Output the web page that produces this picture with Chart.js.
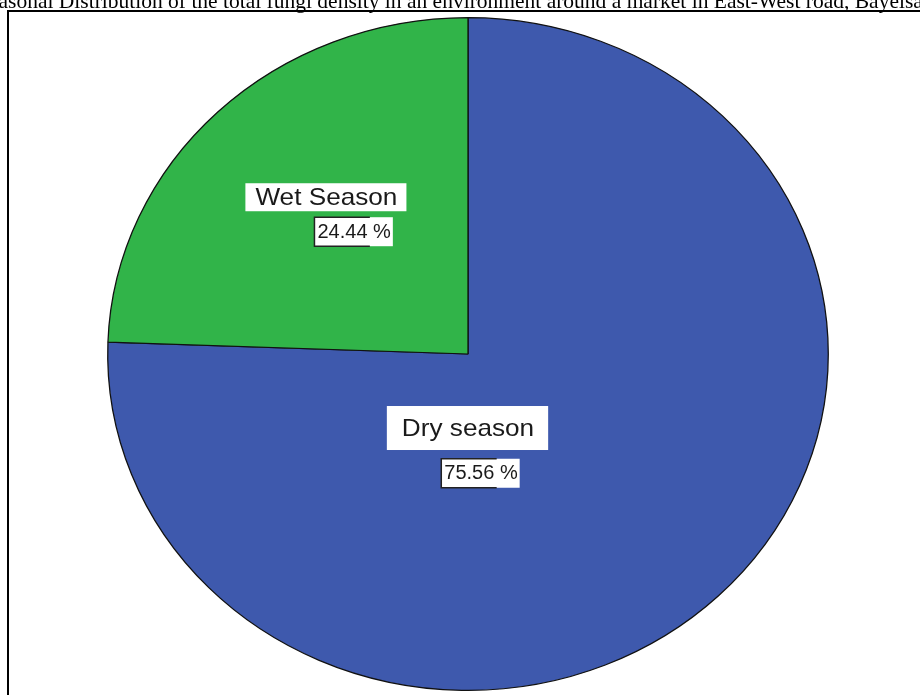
<!DOCTYPE html>
<html>
<head>
<meta charset="utf-8">
<script src="https://cdn.jsdelivr.net/npm/chart.js@4.4.1/dist/chart.umd.min.js"></script>
<style>
  html, body { margin: 0; padding: 0; background: #ffffff; }
  #wrap { position: relative; width: 920px; height: 695px; overflow: hidden; }
  canvas { display: block; }
</style>
</head>
<body>
<div id="wrap"><canvas id="c" width="920" height="695"></canvas></div>
<script>
const chartTitle = "Seasonal Distribution of the total fungi density in an environment around a market in East-West road, Bayelsa State";
const categories = ["Dry season", "Wet Season"];
const percentValues = [75.56, 24.44];
const percentLabels = ["75.56 %", "24.44 %"];
const sliceColors = ["#3e59ad", "#31b449"];

const STRETCH_X = 1.071;

// label placement, as fractions of the pie radius from the pie centre
const labelPlacement = [
  { name: [0.0, 0.22], pct: [0.036, 0.353], nameBoxH: 44, nameBoxPad: [15, 14] },
  { name: [-0.393, -0.466], pct: [-0.316, -0.365], nameBoxH: 28, nameBoxPad: [10, 9] }
];

const framePlugin = {
  id: 'frame',
  beforeDraw(chart) {
    const ctx = chart.ctx;
    ctx.save();
    ctx.fillStyle = '#ffffff';
    ctx.fillRect(0, 0, chart.width, chart.height);
    ctx.strokeStyle = '#000000';
    ctx.lineWidth = 2;
    ctx.strokeRect(8, 11, 1200, 1200);
    ctx.fillStyle = '#000000';
    ctx.font = '21.5px "Liberation Serif", "Times New Roman", serif';
    ctx.textAlign = 'left';
    ctx.textBaseline = 'alphabetic';
    ctx.fillText(chartTitle, -23, 7.5);
    ctx.restore();
  }
};

const stretchPlugin = {
  id: 'stretch',
  beforeDatasetsDraw(chart) {
    const arc = chart.getDatasetMeta(0).data[0];
    const ctx = chart.ctx;
    ctx.save();
    ctx.translate(arc.x, arc.y);
    ctx.scale(STRETCH_X, 1);
    ctx.translate(-arc.x, -arc.y);
  },
  afterDatasetsDraw(chart) {
    chart.ctx.restore();
  }
};

const labelPlugin = {
  id: 'sliceLabels',
  afterDatasetsDraw(chart) {
    const ctx = chart.ctx;
    const meta = chart.getDatasetMeta(0);
    meta.data.forEach((arc, i) => {
      const r = arc.outerRadius;
      const p = labelPlacement[i];
      // name label
      const nx = arc.x + p.name[0] * r * STRETCH_X;
      const ny = arc.y + p.name[1] * r;
      ctx.save();
      ctx.font = '24px "Liberation Sans", Arial, sans-serif';
      const tw = ctx.measureText(categories[i]).width * 1.09;
      ctx.fillStyle = '#ffffff';
      ctx.fillRect(nx - tw / 2 - p.nameBoxPad[0], ny - p.nameBoxH / 2, tw + p.nameBoxPad[0] + p.nameBoxPad[1], p.nameBoxH);
      ctx.translate(nx, ny);
      ctx.scale(1.09, 1);
      ctx.fillStyle = '#1a1a1a';
      ctx.textAlign = 'center';
      ctx.textBaseline = 'middle';
      ctx.fillText(categories[i], 0, 1);
      ctx.restore();

      // percent label
      const px = arc.x + p.pct[0] * r * STRETCH_X;
      const py = arc.y + p.pct[1] * r;
      ctx.save();
      ctx.font = '20px "Liberation Sans", Arial, sans-serif';
      const pw = ctx.measureText(percentLabels[i]).width;
      const bx = px - pw / 2 - 3, by = py - 14, bw = pw - 18, bh = 29;
      ctx.fillStyle = '#ffffff';
      ctx.fillRect(bx, by, pw + 5, bh);
      ctx.strokeStyle = '#222222';
      ctx.lineWidth = 1.5;
      ctx.beginPath();
      ctx.moveTo(bx + bw, by);
      ctx.lineTo(bx, by);
      ctx.lineTo(bx, by + bh);
      ctx.lineTo(bx + bw, by + bh);
      ctx.stroke();
      ctx.fillStyle = '#1a1a1a';
      ctx.textAlign = 'center';
      ctx.textBaseline = 'middle';
      ctx.fillText(percentLabels[i], px, py + 1);
      ctx.restore();
    });
  }
};

new Chart(document.getElementById('c'), {
  type: 'pie',
  data: {
    labels: categories,
    datasets: [{
      data: percentValues,
      backgroundColor: sliceColors,
      borderColor: '#111111',
      borderWidth: 1.2
    }]
  },
  options: {
    responsive: false,
    animation: false,
    devicePixelRatio: 1,
    layout: { padding: { top: 17, bottom: 4, left: 16, right: 0 } },
    plugins: {
      legend: { display: false },
      tooltip: { enabled: false },
      title: { display: false }
    }
  },
  plugins: [framePlugin, stretchPlugin, labelPlugin]
});
</script>
</body>
</html>
